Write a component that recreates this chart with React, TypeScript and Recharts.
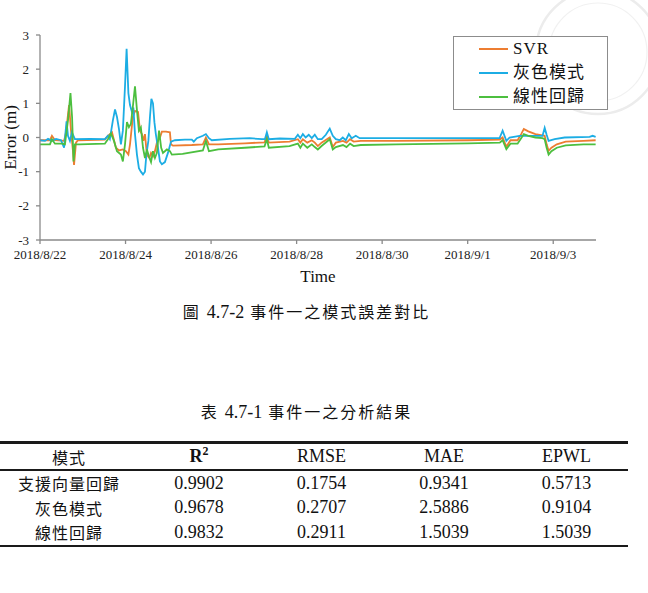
import React from "react";
import { LineChart, Line, XAxis, YAxis, Legend, Label } from "recharts";

const SERIF = "'Liberation Serif', 'Times New Roman', 'Noto Sans CJK TC', serif";
const LATIN = "'Liberation Serif', 'Times New Roman', serif";

// time axis: hours since 2018/8/22 00:00
const dayTicks = [0, 48, 96, 144, 192, 240, 288];
const dayLabels = ["2018/8/22", "2018/8/24", "2018/8/26", "2018/8/28", "2018/8/30", "2018/9/1", "2018/9/3"];
const errorTicks = [-3, -2, -1, 0, 1, 2, 3];

const seriesNames = ["SVR", "灰色模式", "線性回歸"];
const seriesColors = ["#ED7D31", "#1CADE4", "#4CBF3F"];

// SVR error (m)
const svrHours = [
  0, 5.6, 6.7, 8.4, 13.5, 14.6, 16.3, 17.4, 18.5, 19.1, 20.2, 21.3, 36.4, 38.1, 40.4, 42.6, 44.3, 46.5, 48.2,
  49.6, 50.5, 52.1, 53.3, 55.0, 56.1, 57.2, 58.0, 58.9, 59.7, 60.6, 61.4, 62.3, 63.4, 64.5, 65.6, 67.3, 68.4,
  70.7, 72.9, 73.5, 74.6, 85.2, 91.4, 93.1, 94.8, 100, 115, 126, 127.3, 128.4, 140, 144.7, 146.1, 147.5, 150,
  152.5, 154.2, 155.9, 158, 162.6, 164.3, 166, 170, 172, 174, 176, 180, 200, 240, 258, 259.6, 261.7, 264, 268,
  270, 271.5, 274, 278, 282, 283.2, 284.3, 285.4, 287, 290, 295, 305, 311.8,
];
const svrError = [
  -0.08, -0.08, 0.05, -0.08, -0.1, 0.15, 0.95, 0.2, -0.4, -0.8, -0.15, -0.08, -0.06, 0.05, 0.15, -0.3, -0.38,
  -0.35, -0.4, -0.5, -0.2, 0.6, 0.78, 0.75, 0.2, 0.1, -0.1, 0.1, -0.35, -0.55, -0.6, -0.45, -0.55, -0.4, -0.15,
  0, 0.17, 0.17, 0.15, -0.2, -0.24, -0.22, -0.2, 0, -0.2, -0.2, -0.17, -0.14, 0.05, -0.15, -0.12, -0.05, -0.15,
  -0.05, -0.15, -0.08, -0.15, -0.25, -0.15, 0, -0.28, -0.15, -0.1, -0.15, -0.05, -0.12, -0.1, -0.1, -0.08,
  -0.06, 0, -0.27, -0.08, -0.08, 0.1, 0.25, 0.18, 0.1, 0.06, 0.05, -0.2, -0.39, -0.3, -0.2, -0.12, -0.1, -0.08,
];

// grey model error (m)
const greyHours = [
  0, 2.8, 4.5, 6.7, 9, 11.8, 13.5, 14.9, 15.7, 16.8, 17.9, 19.6, 28, 36.4, 38.1, 39.2, 40.9, 42.1, 43.2, 44.3,
  45.4, 46.5, 47.7, 48.6, 49.6, 50.5, 51.6, 52.4, 53.3, 54.4, 55.5, 56.6, 57.8, 58.9, 59.7, 60.8, 61.7, 62.5,
  63.4, 64.2, 65, 66.2, 67.3, 68.4, 70.1, 71.8, 73.5, 75.7, 81.3, 85.2, 86.3, 88, 91.4, 93.1, 94.8, 96.4, 106.5,
  117.7, 124.5, 126.2, 127.3, 128.4, 134.6, 143, 144.7, 146.1, 147.5, 149.1, 150.8, 152.5, 154.2, 155.9, 158.1,
  160.4, 162.6, 164.3, 166, 168.2, 169.9, 171.6, 173.3, 174.9, 177.2, 179.4, 185, 213.1, 257.9, 259.6, 261.7,
  263.5, 269.1, 280.4, 282, 283.2, 284.3, 285.4, 288.8, 294.4, 308.4, 310.1, 311.8,
];
const greyError = [
  -0.08, -0.1, -0.04, -0.1, -0.04, -0.08, -0.3, 0.47, 0.05, -0.1, 0.15, -0.05, -0.04, -0.05, 0.05, -0.05, 0.5,
  0.82, 0.6, 0.25, -0.2, 0.2, 1.5, 2.6, 1.3, 0.95, 0.75, 0.88, 0.1, -0.5, -0.9, -1.0, -1.08, -1.0, -0.5, -0.1,
  0.6, 1.13, 1.0, 0.45, 0.1, -0.3, -0.7, -0.78, -0.72, -0.45, -0.12, -0.08, -0.06, -0.06, -0.12, -0.02, 0.05,
  0.1, -0.02, -0.08, -0.04, -0.02, -0.05, -0.05, 0.15, -0.05, -0.03, -0.04, 0.08, -0.02, 0.1, 0, 0.08, -0.02,
  0.08, -0.05, -0.05, 0.08, 0.26, 0.05, -0.05, -0.08, 0, -0.08, 0.1, -0.02, 0.05, -0.02, -0.02, -0.02, -0.02,
  0.2, -0.1, 0, 0.05, 0.05, 0.05, 0.28, 0.08, -0.1, -0.05, 0, 0.02, 0.05, 0.02,
];

// linear regression error (m)
const linHours = [
  0, 5.6, 6.7, 8.4, 12.3, 14, 15.7, 17.1, 18, 18.8, 19.6, 22, 36.4, 38.1, 39.8, 41.5, 43.2, 45.4, 46.5, 47.7,
  48.8, 49.9, 51, 52.1, 53.3, 54.4, 55.5, 56.6, 57.8, 58.9, 60, 61.1, 62.3, 63.4, 64.5, 65.6, 66.8, 68, 69,
  71.2, 72.9, 74, 80, 91.4, 93.1, 94.8, 100, 115, 126, 127.3, 128.4, 140, 144.7, 146.1, 147.5, 150, 152.5,
  154.2, 155.9, 158, 162.6, 164.3, 166, 170, 172, 174, 176, 180, 200, 240, 258, 259.6, 261.7, 264, 268, 270,
  271.5, 274, 278, 282, 283.2, 284.3, 285.4, 287, 290, 295, 305, 311.8,
];
const linError = [
  -0.2, -0.2, -0.05, -0.18, -0.18, -0.2, 0.5, 1.3, 0.6, -0.7, -0.2, -0.2, -0.18, -0.05, 0.12, -0.1, -0.4, -0.5,
  -0.7, -0.2, 0.45, 0.3, 0.4, 0.9, 1.5, 0.8, 0.2, 0.3, -0.3, -0.6, -0.35, -0.55, -0.72, -0.4, -0.6, -0.45, 0.2,
  -0.3, -0.45, -0.35, -0.4, -0.5, -0.48, -0.38, -0.1, -0.4, -0.35, -0.3, -0.26, -0.05, -0.3, -0.25, -0.18, -0.3,
  -0.18, -0.3, -0.2, -0.28, -0.35, -0.25, -0.05, -0.35, -0.28, -0.22, -0.28, -0.18, -0.25, -0.22, -0.2, -0.17,
  -0.15, -0.08, -0.34, -0.18, -0.18, -0.02, 0.1, 0.05, 0, -0.02, -0.05, -0.3, -0.5, -0.4, -0.3, -0.23, -0.2,
  -0.2,
];

// summary table
const tableHead = ["模式", "R2", "RMSE", "MAE", "EPWL"];
const modelNames = ["支援向量回歸", "灰色模式", "線性回歸"];
const r2Values = ["0.9902", "0.9678", "0.9832"];
const rmseValues = ["0.1754", "0.2707", "0.2911"];
const maeValues = ["0.9341", "2.5886", "1.5039"];
const epwlValues = ["0.5713", "0.9104", "1.5039"];

const toPoints = (hours: number[], errs: number[]) => hours.map((h, i) => ({ h, err: errs[i] }));

const seriesData = [toPoints(svrHours, svrError), toPoints(greyHours, greyError), toPoints(linHours, linError)];

const axisColor = "#8a8a8a";

function renderLegend(props: any) {
  const items = props.payload ?? [];
  return (
    <div
      style={{
        width: 155,
        height: 74,
        border: "1px solid #8c8c8c",
        boxSizing: "border-box",
        background: "#fff",
        fontFamily: SERIF,
        color: "#111",
      }}
    >
      {items.map((entry: any) => (
        <div key={entry.value} style={{ display: "flex", alignItems: "center", height: 24 }}>
          <span
            style={{
              display: "inline-block",
              width: 29,
              borderTop: `2px solid ${entry.color}`,
              marginLeft: 25,
              marginRight: 5,
            }}
          />
          <span style={{ fontSize: 17, lineHeight: "24px", letterSpacing: 1 }}>{entry.value}</span>
        </div>
      ))}
    </div>
  );
}

function YTitle(props: any) {
  const vb = props.viewBox ?? { x: 0, y: 0, width: 0, height: 0 };
  const cx = vb.x + 10;
  const cy = vb.y + vb.height / 2;
  return (
    <text
      x={cx}
      y={cy}
      transform={`rotate(-90, ${cx}, ${cy})`}
      textAnchor="middle"
      dominantBaseline="central"
      fontSize={17}
      fontFamily={SERIF}
      fill="#111"
    >
      Error (m)
    </text>
  );
}

function ErrorChart() {
  return (
    <LineChart width={648} height={300} margin={{ top: 35, right: 52, bottom: 30, left: 0 }}>
      <XAxis
        type="number"
        dataKey="h"
        domain={[0, 312]}
        ticks={dayTicks}
        tickFormatter={(v) => dayLabels[dayTicks.indexOf(v)] ?? ""}
        allowDataOverflow
        height={30}
        tickSize={4}
        tickMargin={6}
        stroke={axisColor}
        strokeWidth={1.3}
        tick={{ fontSize: 13, fill: "#222", fontFamily: SERIF }}
      >
        <Label value="Time" position="bottom" offset={0} fontSize={17} fontFamily={SERIF} fill="#111" />
      </XAxis>
      <YAxis
        type="number"
        domain={[-3, 3]}
        ticks={errorTicks}
        width={40}
        tickSize={4}
        tickMargin={7}
        stroke={axisColor}
        strokeWidth={1.3}
        tick={{ fontSize: 13, fill: "#222", fontFamily: SERIF }}
      >
        <Label content={<YTitle />} />
      </YAxis>
      <Legend
        layout="vertical"
        align="center"
        verticalAlign="middle"
        wrapperStyle={{ left: 453, top: 36 }}
        content={renderLegend}
      />
      {seriesNames.map((name, i) => (
        <Line
          key={name}
          data={seriesData[i]}
          dataKey="err"
          name={name}
          type="linear"
          stroke={seriesColors[i]}
          strokeWidth={1.8}
          dot={false}
          isAnimationActive={false}
        />
      ))}
    </LineChart>
  );
}

const cellBase: React.CSSProperties = {
  padding: 0,
  textAlign: "center",
  verticalAlign: "middle",
  fontWeight: "normal",
};

function ResultTable() {
  const rows = modelNames.map((m, i) => [m, r2Values[i], rmseValues[i], maeValues[i], epwlValues[i]]);
  const widths = [138, 122, 123, 122, 123];
  return (
    <table
      style={{
        position: "absolute",
        left: 0,
        top: 441,
        width: 628,
        borderCollapse: "collapse",
        tableLayout: "fixed",
        fontFamily: SERIF,
        color: "#111",
      }}
    >
      <colgroup>
        {widths.map((w, i) => (
          <col key={i} style={{ width: w }} />
        ))}
      </colgroup>
      <thead>
        <tr>
          {tableHead.map((h, i) => (
            <th
              key={h}
              style={{
                ...cellBase,
                height: 25,
                borderTop: "3px solid #1a1a1a",
                borderBottom: "2px solid #1a1a1a",
                fontSize: i === 0 ? 16 : 18,
                letterSpacing: i === 0 ? 1 : 0,
              }}
            >
              {h === "R2" ? (
                <b>
                  R<span style={{ fontSize: 12, position: "relative", top: -7 }}>2</span>
                </b>
              ) : (
                h
              )}
            </th>
          ))}
        </tr>
      </thead>
      <tbody>
        {rows.map((r, ri) => (
          <tr key={r[0]}>
            {r.map((c, ci) => (
              <td
                key={ci}
                style={{
                  ...cellBase,
                  height: 24.5,
                  fontSize: ci === 0 ? 16 : 18,
                  letterSpacing: ci === 0 ? 1 : 0,
                  borderBottom: ri === rows.length - 1 ? "2.5px solid #1a1a1a" : "none",
                }}
              >
                {c}
              </td>
            ))}
          </tr>
        ))}
      </tbody>
    </table>
  );
}

function Caption(props: { top: number; head: string; num: string; text: string }) {
  return (
    <div
      style={{
        position: "absolute",
        left: 0,
        top: props.top,
        width: 613,
        textAlign: "center",
        fontSize: 16,
        lineHeight: "22px",
        letterSpacing: 2,
        color: "#111",
      }}
    >
      {props.head}{" "}
      <span style={{ fontFamily: LATIN, fontSize: 18, letterSpacing: 0 }}>{props.num}</span> {props.text}
    </div>
  );
}

export default function App() {
  return (
    <div
      style={{
        position: "absolute",
        left: 0,
        top: 0,
        width: 648,
        height: 593,
        background: "#fff",
        overflow: "hidden",
        fontFamily: SERIF,
      }}
    >
      {/* faint seal in the corner */}
      <svg width={648} height={593} style={{ position: "absolute", left: 0, top: 0 }}>
        <circle cx={598} cy={52} r={62} fill="none" stroke="#ececec" strokeWidth={2.5} />
        <circle cx={598} cy={52} r={49} fill="none" stroke="#f1f1f1" strokeWidth={1.2} />
      </svg>
      <div style={{ position: "absolute", left: 0, top: 0 }}>
        <ErrorChart />
      </div>
      <Caption top={301} head="圖" num="4.7-2" text="事件一之模式誤差對比" />
      <Caption top={401} head="表" num="4.7-1" text="事件一之分析結果" />
      <ResultTable />
    </div>
  );
}
